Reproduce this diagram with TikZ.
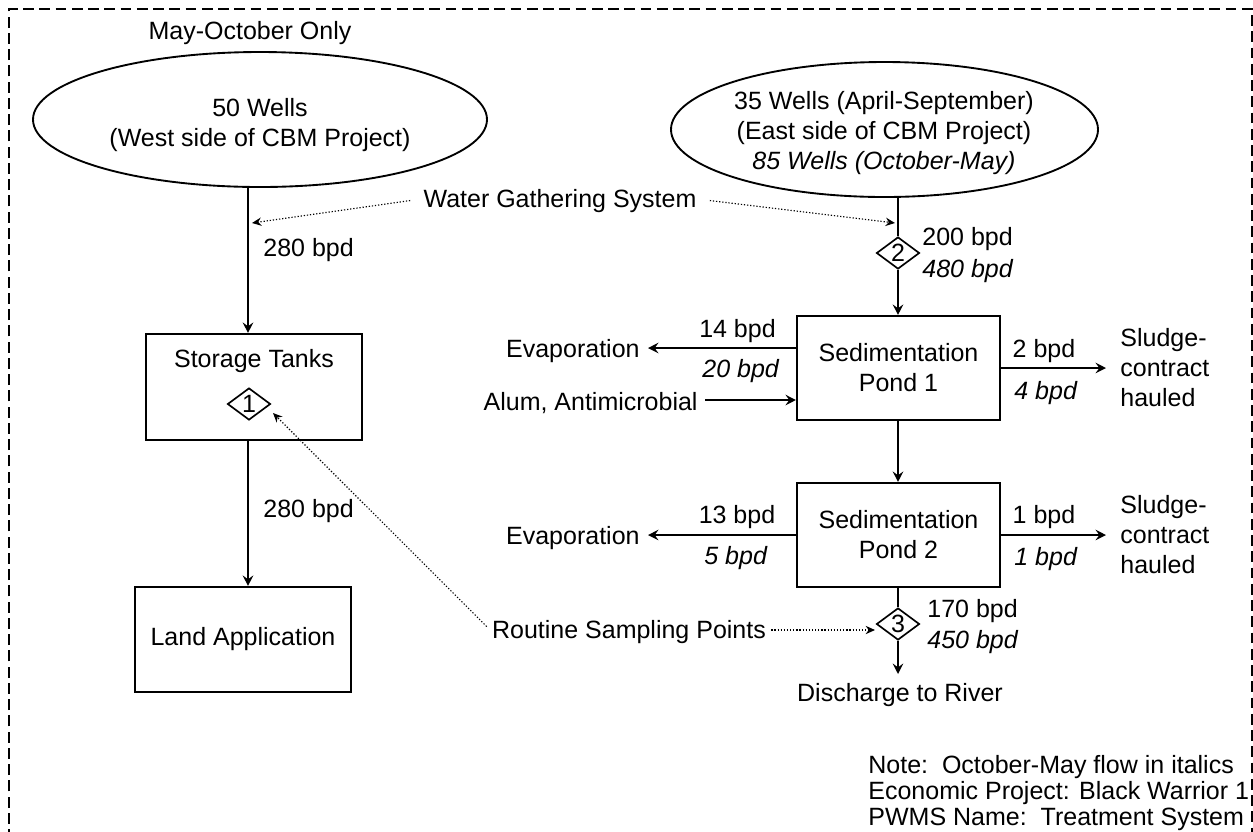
\documentclass[tikz,border=0pt]{standalone}
\usepackage{fontspec}
\setmainfont{Liberation Sans}
\usetikzlibrary{arrows.meta,shapes.geometric}
\begin{document}
\begin{tikzpicture}[x=0.48pt,y=-0.48pt,
  every node/.style={font=\fontsize{12}{14.4}\selectfont, inner sep=0pt},
  box/.style={draw, line width=1pt, rectangle},
  well/.style={draw, line width=0.9pt, ellipse},
  spt/.style={draw, line width=0.8pt, diamond, minimum width={43*0.48pt}, minimum height={32*0.48pt}},
  flow/.style={line width=1pt, -{Stealth[length=5pt,width=5pt,inset=1.8pt]}},
  plainline/.style={line width=1pt},
  ptr/.style={line width=0.55pt, dash pattern=on 0.6pt off 0.9pt, -{Stealth[length=4.5pt,width=4pt,inset=1.5pt]}},
  border/.style={line width=0.75pt, dash pattern=on 5.2pt off 2.6pt},
  notes/.style={font=\fontsize{12}{12.5}\selectfont, align=left}
]
\useasboundingbox (0,0) rectangle (1253,831);
\draw[border] (9,840) -- (9,9) -- (1252,9) -- (1252,840);

% west branch
\node[anchor=base] (mo) at (250,39) {May-October Only};
\node[well, minimum width={454*0.48pt}, minimum height={135*0.48pt}] (w) at (260,119.5) {};
\node[align=center] (wt) at (260,125) {50 Wells\\(West side of CBM Project)};
\coordinate (wx) at (248,0);
\node[box, minimum width={216*0.48pt}, minimum height={106*0.48pt}] (st) at (254,387) {};
\node[anchor=base] (stt) at (254,367) {Storage Tanks};
\node[spt] (d1) at (249,404) {1};
\node[box, minimum width={216*0.48pt}, minimum height={105*0.48pt}] (la) at (243,639.5) {Land Application};
\draw[flow] (w.south -| wx) -- (st.north -| wx);
\node[anchor=base west] (q1) at (263,256) {280 bpd};
\draw[flow] (st.south -| wx) -- (la.north -| wx);
\node[anchor=base west] (q2) at (263,517) {280 bpd};

% water gathering system
\node[anchor=base, inner xsep={13*0.48pt}] (wg) at (560,207) {Water Gathering System};
\coordinate (wgL) at (252,223);
\coordinate (wgR) at (895,223);
\draw[ptr] (wg.west) -- (wgL);
\draw[ptr] (wg.east) -- (wgR);

% east branch
\node[well, minimum width={427*0.48pt}, minimum height={135*0.48pt}] (e) at (884.5,129.5) {};
\node[align=center] (et) at (884,133) {35 Wells (April-September)\\(East side of CBM Project)\\\textit{85 Wells (October-May)}};
\coordinate (ex) at (898,0);
\node[spt] (d2) at (898,253) {2};
\draw[plainline] (e.south -| ex) -- (d2.north);
\node[anchor=base west] (f2a) at (922,245) {200 bpd};
\node[anchor=base west] (f2b) at (922,277) {\textit{480 bpd}};

\node[box, minimum width={203*0.48pt}, minimum height={104*0.48pt}, align=center] (p1) at (898.5,368) {Sedimentation\\Pond 1};
\draw[flow] (d2.south) -- (p1.north -| d2);

\node[anchor=base east, inner xsep={8*0.48pt}] (ev1) at (648,357) {Evaporation};
\coordinate (ev1y) at (0,348);
\draw[flow] (p1.west |- ev1y) -- (ev1y -| ev1.east);
\node[anchor=base] (f14) at (737.5,337) {14 bpd};
\node[anchor=base] (f20) at (741,377) {\textit{20 bpd}};
\node[anchor=base east, inner xsep={7*0.48pt}] (alum) at (705,410) {Alum, Antimicrobial};
\coordinate (alumy) at (0,400);
\draw[flow] (alumy -| alum.east) -- (p1.west |- alumy);

\node[anchor=west, align=left, inner xsep={14*0.48pt}] (sl1) at (1106,368) {Sludge-\\contract\\hauled};
\draw[flow] (p1.east) -- (p1.east -| sl1.west);
\node[anchor=base] (f2) at (1044,357) {2 bpd};
\node[anchor=base] (f4) at (1046,399) {\textit{4 bpd}};

\node[box, minimum width={203*0.48pt}, minimum height={104*0.48pt}, align=center] (p2) at (898.5,535) {Sedimentation\\Pond 2};
\draw[flow] (p1.south -| ex) -- (p2.north -| ex);

\node[anchor=base east, inner xsep={8*0.48pt}] (ev2) at (648,544) {Evaporation};
\draw[flow] (p2.west) -- (p2.west -| ev2.east);
\node[anchor=base] (f13) at (737,523) {13 bpd};
\node[anchor=base] (f5) at (736,564) {\textit{5 bpd}};

\node[anchor=west, align=left, inner xsep={14*0.48pt}] (sl2) at (1106,535) {Sludge-\\contract\\hauled};
\draw[flow] (p2.east) -- (p2.east -| sl2.west);
\node[anchor=base] (f1) at (1044,523) {1 bpd};
\node[anchor=base] (f1b) at (1046,565) {\textit{1 bpd}};

\node[spt] (d3) at (898,624) {3};
\draw[plainline] (p2.south -| d3) -- (d3.north);
\node[anchor=base west] (f170) at (927,617) {170 bpd};
\node[anchor=base west] (f450) at (927,648) {\textit{450 bpd}};
\node[anchor=base] (dis) at (900,701) {Discharge to River};
\coordinate (disT) at (898,674);
\draw[flow] (d3.south) -- (disT);

% sampling points
\node[anchor=base, inner xsep={5*0.48pt}] (rs) at (629,638) {Routine Sampling Points};
\coordinate (rsT) at (875,630);
\coordinate (d1T) at (273,413);
\draw[ptr] (rs.east |- rsT) -- (rsT);
\draw[ptr] ([yshift={5*0.48pt}]rs.west) -- (d1T);

% notes
\node[notes, anchor=north west] (nt) at (868,755) {Note:\ \ October-May flow in italics\\Economic Project: Black Warrior 1\\PWMS Name:\ \ Treatment System};
\end{tikzpicture}
\end{document}
